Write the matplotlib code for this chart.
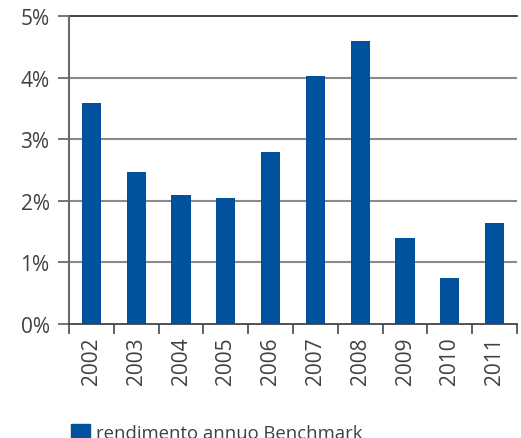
import matplotlib.pyplot as plt
from matplotlib.patches import Patch

plt.rcParams['font.family'] = ['Open Sans', 'DejaVu Sans']

anni = ['2002', '2003', '2004', '2005', '2006', '2007', '2008', '2009', '2010', '2011']
rendimento = [3.59, 2.47, 2.09, 2.05, 2.79, 4.03, 4.59, 1.40, 0.75, 1.64]
yticks = [0, 1, 2, 3, 4, 5]
ylabels = ['0%', '1%', '2%', '3%', '4%', '5%']

blu = '#02519c'
testo = '#404040'

fig = plt.figure(figsize=(5.21, 4.39), dpi=100)
ax = fig.add_axes([69 / 521, 1 - 325 / 439, 448 / 521, 308 / 439])

x = list(range(len(anni)))
ax.bar(x, rendimento, width=0.43, color=blu, zorder=3)

ax.set_xlim(-0.5, len(anni) - 0.5)
ax.set_ylim(0, 5)

# griglia orizzontale
for v in yticks[1:-1]:
    ax.axhline(v, color='#8a8a8a', lw=1.5, zorder=1)
ax.axhline(5, color='#333333', lw=1.3, zorder=1, clip_on=False)

ax.set_yticks(yticks)
ax.set_yticklabels(ylabels)
ax.tick_params(axis='y', length=8, width=1.3, color='#6a6a6a', pad=6,
               labelsize=15, labelcolor=testo)

ax.set_xticks(x)
ax.set_xticklabels(anni, rotation=90)
ax.set_xticks([i - 0.5 for i in range(len(anni) + 1)], minor=True)
ax.tick_params(axis='x', which='major', length=0, pad=9, labelsize=15, labelcolor=testo)
ax.tick_params(axis='x', which='minor', length=7, width=1.3, color='#555555')

for s in ['top', 'right']:
    ax.spines[s].set_visible(False)
ax.spines['left'].set_color('#6a6a6a')
ax.spines['left'].set_linewidth(1.5)
ax.spines['bottom'].set_color('#444444')
ax.spines['bottom'].set_linewidth(1.3)

fig.legend(handles=[Patch(color=blu, label='rendimento annuo Benchmark')],
           loc='upper left', bbox_to_anchor=(64 / 521, 1 - 418 / 439),
           frameon=False, fontsize=13.3, handlelength=1.0, handleheight=0.9,
           handletextpad=0.35, labelcolor=testo, borderaxespad=0)

plt.savefig('out.png', dpi=100)
